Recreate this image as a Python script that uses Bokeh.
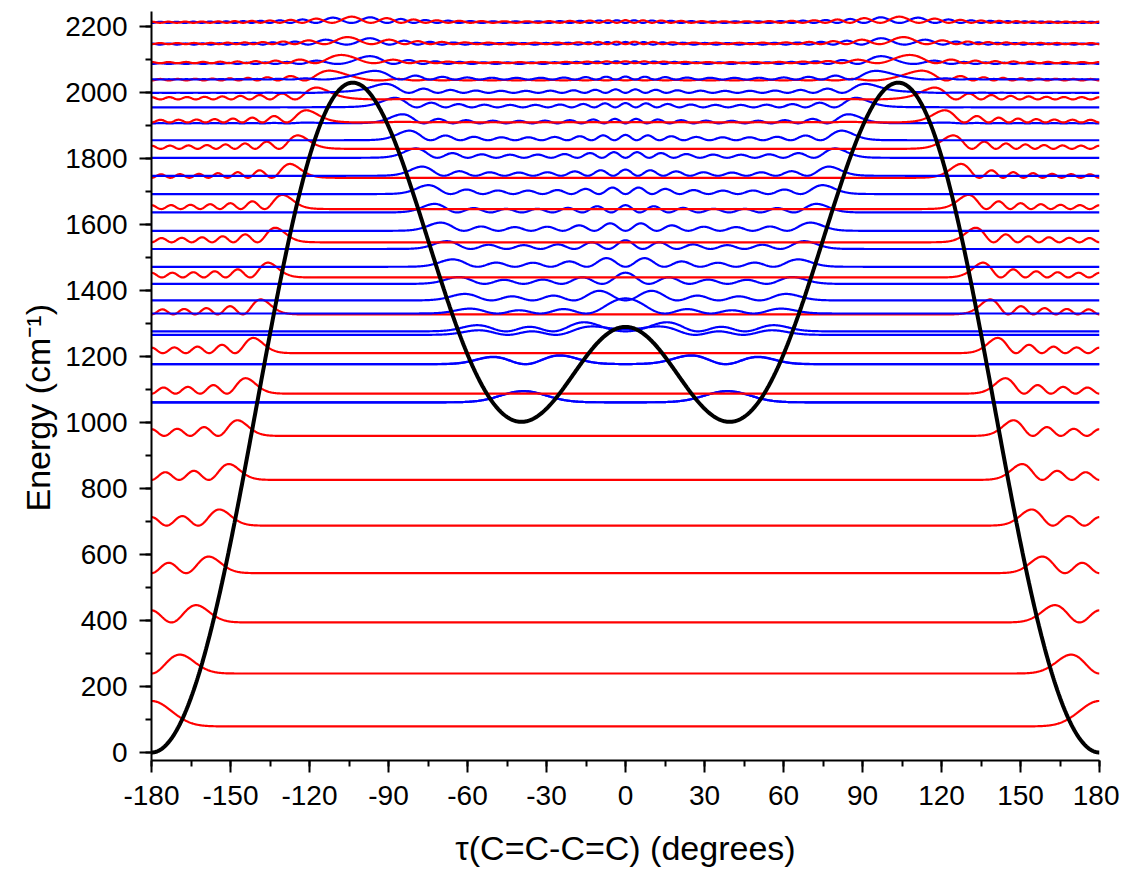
import numpy as np
from bokeh.plotting import figure
from bokeh.models import SingleIntervalTicker, Range1d, Title
from bokeh.embed import file_html
from bokeh.resources import INLINE

# torsional potential (symmetric in tau), degrees -> cm-1
tau_read = [0, 5.3, 14.1, 26.8, 30.6, 38.8, 48.3, 51.5, 58.5, 62.9, 66.0, 70.5,
            74.9, 80.0, 85.0, 88.8, 93.9, 98.9, 103.4, 107.8, 111.6, 115.4, 118.9,
            121.7, 124.9, 127.8, 130.3, 133.4, 136.4, 139.2, 142.0, 145.1, 148.7,
            152.7, 156.9, 162.0, 169.2, 180.0]
V_read = [1290, 1275, 1210, 1068, 1032, 1010, 1037, 1070, 1178, 1270, 1328, 1441,
          1552, 1668, 1795, 1886, 1967, 2007, 2018, 2007, 1977, 1930, 1840,
          1745, 1660, 1550, 1455, 1340, 1215, 1090, 960, 825, 685,
          540, 390, 240, 80, 0]
# energy levels, cm-1
trans_levels_read = [80, 240, 390, 540, 685, 825, 960, 1088, 1212, 1329, 1440,
                     1545, 1646, 1742, 1827, 1906, 1977]
gauche_levels_read = [1068, 1068, 1177, 1177, 1262, 1272, 1330, 1371, 1421, 1472,
                      1526, 1581, 1635, 1690, 1749, 1803, 1855, 1906, 1951, 1997]
top_levels_read = [2035, 2035, 2088, 2088, 2146, 2146, 2212, 2212]
ground_peak_height = 77     # height of the ground-state density above its level
top_energy = 2240
x_tick_values = list(range(-180, 181, 30))

# ---- model: V(tau) as a cosine series fitted to the read points; the levels
# ---- are the eigenstates of -d/dt F(t) d/dt + V(t), F(t) fitted to the read levels
n_fourier = 8
nF = 6
M = 80
NG = 1440
theta = np.linspace(-np.pi, np.pi, NG, endpoint=False)
dth = 2 * np.pi / NG
A = np.cos(np.outer(np.radians(tau_read), np.arange(n_fourier + 1)))
coef, *_ = np.linalg.lstsq(A, np.array(V_read, float), rcond=None)


def V_of(th):
    return np.cos(np.outer(th, np.arange(n_fourier + 1))) @ coef


me = np.arange(0, M + 1)
mo = np.arange(1, M + 1)


def bases(th):
    Be = np.cos(np.outer(th, me)) / np.sqrt(np.pi)
    Be[:, 0] = 1 / np.sqrt(2 * np.pi)
    Bo = np.sin(np.outer(th, mo)) / np.sqrt(np.pi)
    return Be, Bo


Vg = V_of(theta)
tg = np.degrees(theta)
Be, Bo = bases(theta)
dBe = -np.sin(np.outer(theta, me)) * me / np.sqrt(np.pi)
dBo = np.cos(np.outer(theta, mo)) * mo / np.sqrt(np.pi)
Ve = Be.T @ (Vg[:, None] * Be) * dth
Vo = Bo.T @ (Vg[:, None] * Bo) * dth
Tk_e = [dBe.T @ ((np.cos(k * theta) * dth)[:, None] * dBe) for k in range(nF)]
Tk_o = [dBo.T @ ((np.cos(k * theta) * dth)[:, None] * dBo) for k in range(nF)]
mask_b = (tg > 60) & (tg < 160)
tau_b = abs(tg[mask_b][np.argmax(Vg[mask_b])])
V_top = Vg[mask_b].max()
tmask = np.abs(tg) > tau_b
Bt_e, Bt_o = Be[tmask], Bo[tmask]
Fcos = np.array([np.cos(k * theta) for k in range(nF)])


def analyze(f):
    He = Ve + sum(f[k] * Tk_e[k] for k in range(nF))
    Ho = Vo + sum(f[k] * Tk_o[k] for k in range(nF))
    Ee, Ce = np.linalg.eigh(He)
    Eo, Co = np.linalg.eigh(Ho)
    Pe = np.sum((Bt_e @ Ce) ** 2, axis=0) * dth
    Po = np.sum((Bt_o @ Co) ** 2, axis=0) * dth
    Je = np.array([np.sum(Ce * (Tk_e[k] @ Ce), axis=0) for k in range(nF)]).T
    Jo = np.array([np.sum(Co * (Tk_o[k] @ Co), axis=0) for k in range(nF)]).T
    return (np.concatenate([Ee, Eo]), np.concatenate([Pe, Po]),
            np.vstack([Je, Jo]), Ce, Co)


def residual(f):
    E, P, J, _, _ = analyze(f)
    order = np.argsort(E)
    ti = [i for i in order if P[i] > 0.5][:len(trans_levels_read)]
    gi = [i for i in order if P[i] <= 0.5][:len(gauche_levels_read)]
    used = set(ti) | set(gi)
    oi = [i for i in order if i not in used and E[i] > 2000][:len(top_levels_read)]
    idx = ti + gi + oi
    r = np.concatenate([np.array(trans_levels_read, float) - E[ti],
                        np.array(gauche_levels_read, float) - E[gi],
                        np.array(top_levels_read, float) - E[oi]])
    return r, J[idx]


f = np.zeros(nF)
f[0] = 2.4
for it in range(30):
    r, J = residual(f)
    df, *_ = np.linalg.lstsq(J, r, rcond=None)
    lam = 1.0
    while lam > 1e-3:
        trial = f + lam * df
        if (trial @ Fcos).min() > 0.3 and np.sum(residual(trial)[0] ** 2) < np.sum(r ** 2):
            f = trial
            break
        lam /= 2

E_all, P_all, _, Ce, Co = analyze(f)
thp = np.linspace(-np.pi, np.pi, 1441)
Bep, Bop = bases(thp)
taup = np.degrees(thp)
Vp = V_of(thp)
nE = len(Ce)
states = []
for i in range(len(E_all)):
    psi = Bep @ Ce[:, i] if i < nE else Bop @ Co[:, i - nE]
    states.append([E_all[i], psi, P_all[i]])
states.sort(key=lambda s: s[0])
states = [s for s in states if s[0] < top_energy]
rho0 = states[0][1] ** 2
S = ground_peak_height / rho0.max()

colors = ["#FF0000" if s[2] > 0.5 else "#0000FF" for s in states]
above = [i for i, s in enumerate(states) if s[0] > V_top]
k = 0
while k < len(above):
    i = above[k]
    if k + 1 < len(above) and states[above[k + 1]][0] - states[i][0] < 20:
        j = above[k + 1]
        hi, lo = (i, j) if states[i][2] >= states[j][2] else (j, i)
        colors[hi], colors[lo] = "#FF0000", "#0000FF"
        k += 2
    else:
        colors[i] = "#FF0000" if states[i][2] > 0.43 else "#0000FF"
        k += 1

xs = [taup for s in states]
ys = [s[0] + S * s[1] ** 2 for s in states]

p = figure(frame_width=948, frame_height=749,
           x_range=Range1d(-180, 180), y_range=Range1d(-25, 2245),
           output_backend="svg", toolbar_location=None,
           min_border_left=151, min_border_right=20, min_border_top=11,
           min_border_bottom=97)
p.grid.visible = False
p.outline_line_color = None
p.background_fill_color = "white"

p.multi_line(xs=xs, ys=ys, line_color=colors, line_width=2.2)
p.line(taup, Vp, line_color="black", line_width=4)

for ax in (p.xaxis, p.yaxis):
    ax.axis_line_width = 2
    ax.major_tick_line_width = 2
    ax.minor_tick_line_width = 2
    ax.major_tick_out = 12
    ax.major_tick_in = 0
    ax.minor_tick_out = 6
    ax.minor_tick_in = 0
    ax.major_label_text_font = "Liberation Sans"
    ax.major_label_text_font_size = "28px"
    ax.major_label_text_color = "black"
    ax.axis_line_color = "black"
    ax.major_tick_line_color = "black"
    ax.minor_tick_line_color = "black"

p.xaxis.ticker = SingleIntervalTicker(interval=30, num_minor_ticks=2)
p.yaxis.ticker = SingleIntervalTicker(interval=200, num_minor_ticks=2)
p.xaxis.major_label_overrides = {v: str(v) for v in x_tick_values}
p.xaxis.major_label_standoff = 13
p.yaxis.major_label_standoff = 12
p.xaxis.axis_label = "τ(C=C-C=C) (degrees)"
p.xaxis.axis_label_text_font = "Liberation Sans"
p.xaxis.axis_label_text_font_size = "34px"
p.xaxis.axis_label_text_font_style = "normal"
p.xaxis.axis_label_text_color = "black"
p.xaxis.axis_label_standoff = 21

ytitle = Title(text="Energy (cm⁻¹)", align="left", offset=249, standoff=12,
               text_font="Liberation Sans", text_font_size="34px",
               text_font_style="normal", text_color="black")
p.add_layout(ytitle, "left")

open("out.html", "w").write(file_html(p, INLINE))
